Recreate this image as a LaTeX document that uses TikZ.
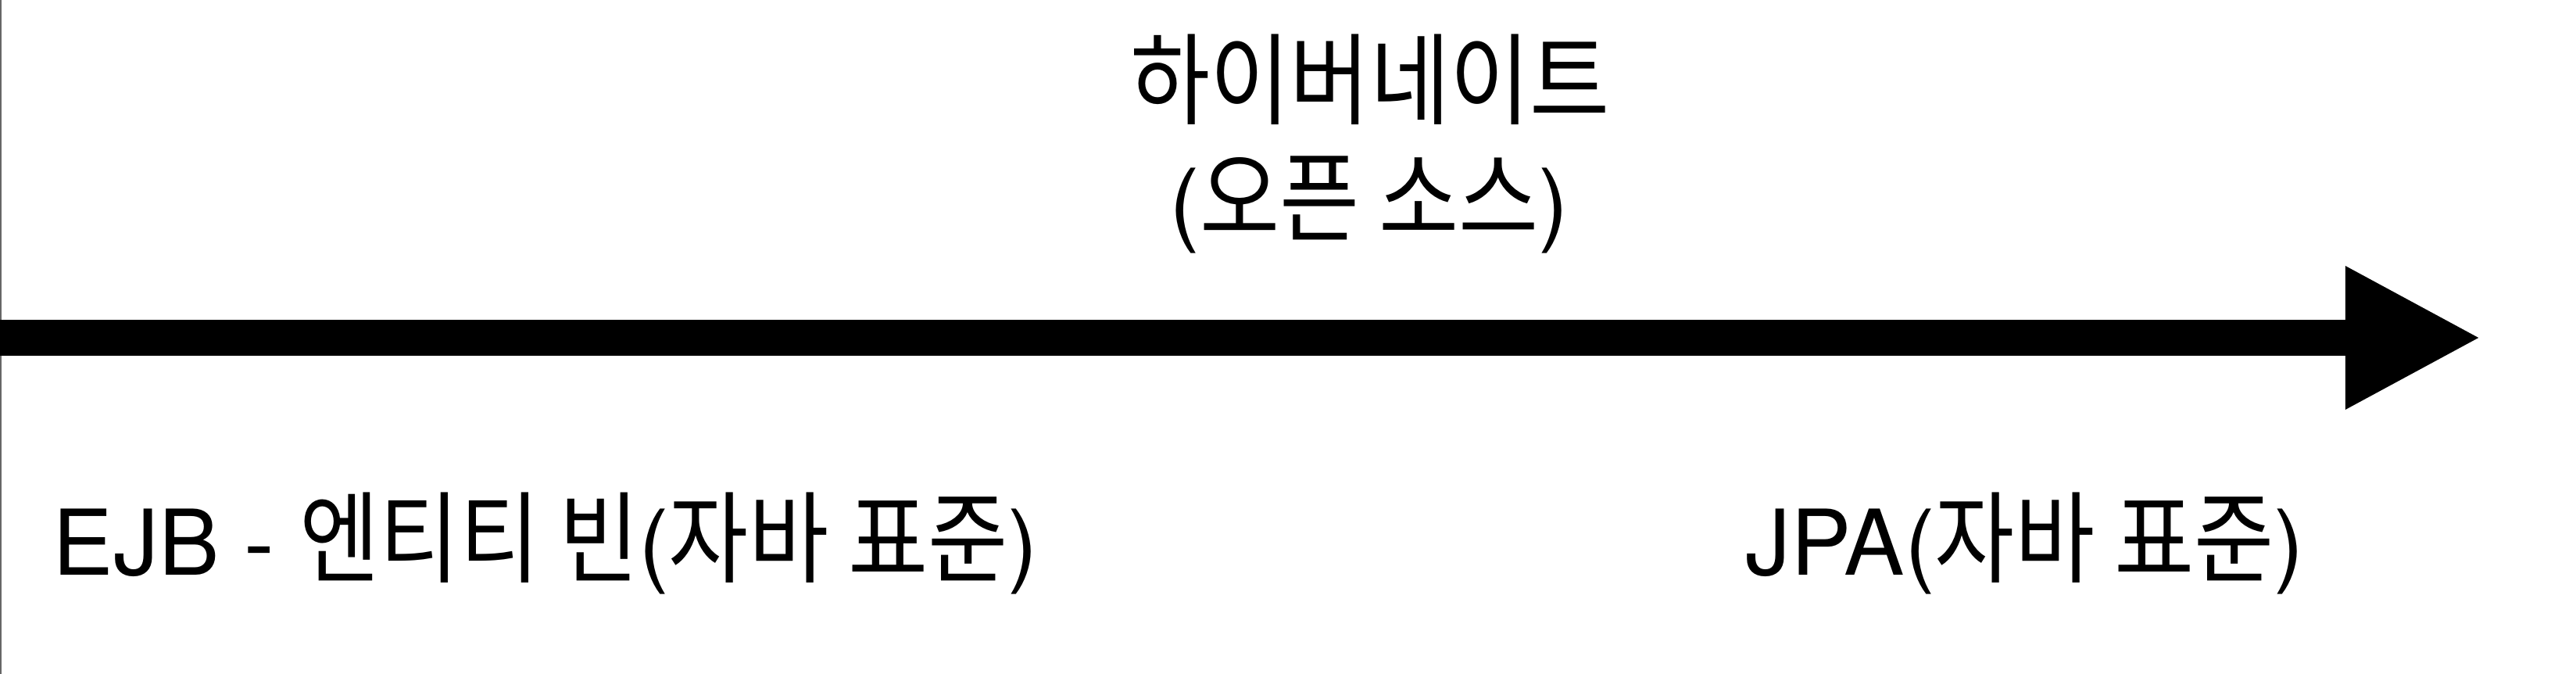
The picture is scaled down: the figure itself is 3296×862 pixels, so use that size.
\documentclass[tikz,border=0pt]{standalone}
\usepackage{fontspec}
\setmainfont{TeX Gyre Heros}
\newfontfamily\kr[Scale=1.1,FakeStretch=0.87]{Noto Sans CJK KR}
\usetikzlibrary{arrows.meta}
\begin{document}
\begin{tikzpicture}[x=0.01cm,y=-0.01cm]
\tikzset{lbl/.style={inner sep=0pt, font=\fontsize{33}{40}\selectfont}}
\useasboundingbox (0,0) rectangle (3296,862);
\fill[white] (0,0) rectangle (3296,862);
\draw[black!60, line width=0.02cm] (1,0) -- (1,862);
\coordinate (s) at (0,432);
\coordinate (t) at (3175,432);
\draw[line width=0.46cm, -{Triangle[length=1.74cm,width=1.70cm]}] (s) -- (t);
\node[lbl, anchor=base] (hib) at (1753,150) {{\kr 하이버네이트}};
\node[lbl, anchor=base] (oss) at (1752,300) {({\kr 오픈 소스})};
\node[lbl, anchor=base west] (ejb) at (67,736) {EJB - {\kr 엔티티 빈}({\kr 자바 표준})};
\node[lbl, anchor=base west] (jpa) at (2233,736) {JPA({\kr 자바 표준})};
\end{tikzpicture}
\end{document}
